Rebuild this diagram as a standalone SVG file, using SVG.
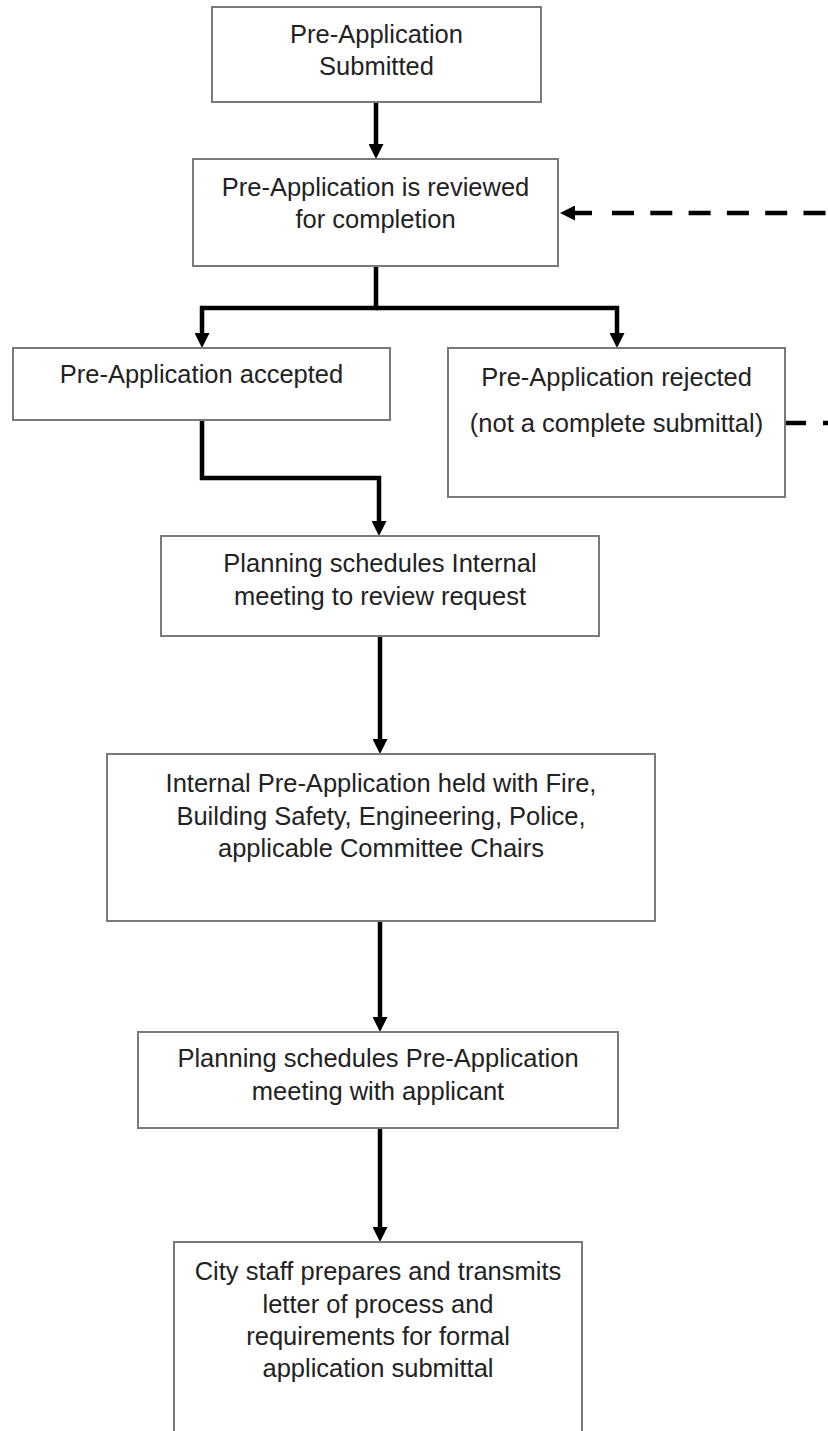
<svg xmlns="http://www.w3.org/2000/svg" width="828" height="1431" viewBox="0 0 828 1431">
  <style>
    .box { fill: #ffffff; stroke: #7a7a7a; stroke-width: 2; }
    .lbl { font-family: "Liberation Sans", Arial, sans-serif; font-size: 25.5px; fill: #222222; text-anchor: middle; }
    .conn { fill: none; stroke: #000000; stroke-width: 4.5; stroke-linejoin: miter; }
    .dash { fill: none; stroke: #000000; stroke-width: 4.5; }
  </style>
  <defs>
    <marker id="ah" viewBox="0 0 15 15" markerUnits="userSpaceOnUse" markerWidth="15" markerHeight="15" refX="1" refY="7.5" orient="auto">
      <path d="M0,0 L15,7.5 L0,15 z" fill="#000000"/>
    </marker>
  </defs>
  <rect width="828" height="1431" fill="#ffffff"/>

  <g id="connectors">
    <path class="conn" d="M376,102 V145" marker-end="url(#ah)"/>
    <path class="conn" d="M376,266 V308 H202 V334" marker-end="url(#ah)"/>
    <path class="conn" d="M376,308 H617 V334" marker-end="url(#ah)"/>
    <path class="conn" d="M202,420 V478 H379 V522" marker-end="url(#ah)"/>
    <path class="conn" d="M380,636 V740" marker-end="url(#ah)"/>
    <path class="conn" d="M380,922 V1018" marker-end="url(#ah)"/>
    <path class="conn" d="M380,1128 V1228" marker-end="url(#ah)"/>
    <path class="dash" d="M612,213 H840" stroke-dasharray="22 16.3"/>
    <path class="conn" d="M592,213 H574" marker-end="url(#ah)"/>
    <path class="dash" d="M786,423 H850" stroke-dasharray="20 17"/>
  </g>

  <g id="node-submitted">
    <rect class="box" x="212" y="7" width="329" height="95"/>
    <text class="lbl" x="376.5" y="43">Pre-Application</text>
    <text class="lbl" x="376.5" y="75">Submitted</text>
  </g>
  <g id="node-reviewed">
    <rect class="box" x="193" y="159" width="365" height="107"/>
    <text class="lbl" x="375.5" y="196">Pre-Application is reviewed</text>
    <text class="lbl" x="375.5" y="228">for completion</text>
  </g>
  <g id="node-accepted">
    <rect class="box" x="13" y="348" width="377" height="72"/>
    <text class="lbl" x="201.5" y="383">Pre-Application accepted</text>
  </g>
  <g id="node-rejected">
    <rect class="box" x="448" y="348" width="337" height="149"/>
    <text class="lbl" x="616.5" y="386">Pre-Application rejected</text>
    <text class="lbl" x="616.5" y="432">(not a complete submittal)</text>
  </g>
  <g id="node-internal-meeting">
    <rect class="box" x="161" y="536" width="438" height="100"/>
    <text class="lbl" x="380" y="572">Planning schedules Internal</text>
    <text class="lbl" x="380" y="605">meeting to review request</text>
  </g>
  <g id="node-internal-preapp">
    <rect class="box" x="107" y="754" width="548" height="167"/>
    <text class="lbl" x="381" y="792">Internal Pre-Application held with Fire,</text>
    <text class="lbl" x="381" y="825">Building Safety, Engineering, Police,</text>
    <text class="lbl" x="381" y="857">applicable Committee Chairs</text>
  </g>
  <g id="node-applicant-meeting">
    <rect class="box" x="138" y="1032" width="480" height="96"/>
    <text class="lbl" x="378" y="1067">Planning schedules Pre-Application</text>
    <text class="lbl" x="378" y="1100">meeting with applicant</text>
  </g>
  <g id="node-letter">
    <rect class="box" x="174" y="1242" width="408" height="210"/>
    <text class="lbl" x="378" y="1280">City staff prepares and transmits</text>
    <text class="lbl" x="378" y="1313">letter of process and</text>
    <text class="lbl" x="378" y="1345">requirements for formal</text>
    <text class="lbl" x="378" y="1377">application submittal</text>
  </g>
</svg>
